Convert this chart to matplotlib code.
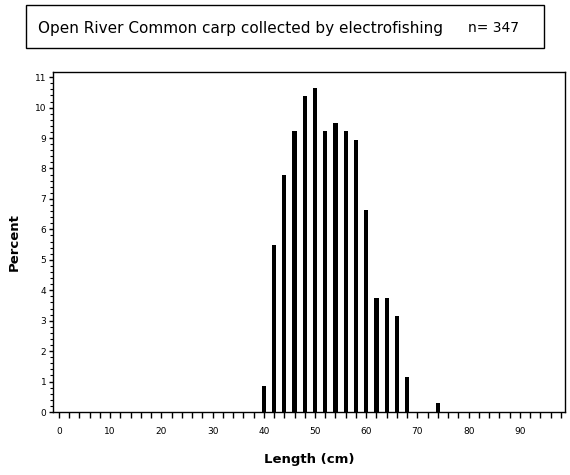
import matplotlib
matplotlib.use("Agg")
import matplotlib.pyplot as plt
from matplotlib.patches import Rectangle
from matplotlib.ticker import MultipleLocator, FixedLocator, FuncFormatter

lengths = [40, 42, 44, 46, 48, 50, 52, 54, 56, 58, 60, 62, 64, 66, 68, 74]
percent = [0.86, 5.48, 7.78, 9.22, 10.37, 10.66, 9.22, 9.51, 9.22, 8.93,
           6.63, 3.75, 3.75, 3.17, 1.15, 0.29]
x_labels = [0, 10, 20, 30, 40, 50, 60, 70, 80, 90]
y_labels = list(range(0, 12))
title_text = "Open River Common carp collected by electrofishing"
n_text = "n= 347"

plt.rcParams['font.family'] = ['DejaVu Sans']

fig = plt.figure(figsize=(5.7, 4.75), dpi=100)
W, H = 570, 475
ax = fig.add_axes([52.7 / W, 1 - 412 / H, (565 - 52.7) / W, (412 - 71.7) / H])

ax.bar(lengths, percent, width=0.84, color='black', linewidth=0)

ax.set_xlim(-1.2, 98.8)
ax.set_ylim(0, 11.18)

ax.xaxis.set_major_locator(MultipleLocator(2))
ax.xaxis.set_major_formatter(FuncFormatter(
    lambda v, p: str(int(round(v))) if int(round(v)) in x_labels else ""))
ax.yaxis.set_major_locator(FixedLocator(y_labels))
ax.yaxis.set_minor_locator(MultipleLocator(0.2))

ax.tick_params(axis='x', which='major', length=4, width=1, direction='out',
               labelsize=6.5, pad=7)
ax.tick_params(axis='y', which='major', length=3, width=1, direction='out',
               labelsize=6.5, pad=1.5)
ax.tick_params(axis='y', which='minor', length=2, width=0.8, direction='out')

for s in ['top', 'right', 'left', 'bottom']:
    ax.spines[s].set_linewidth(1.0)

ax.set_xlabel("Length (cm)", fontsize=9.5, fontweight='bold', labelpad=12)
ax.set_ylabel("Percent", fontsize=9.5, fontweight='bold', labelpad=10)

# Title box
fig.patches.append(Rectangle((26 / W, 1 - 48 / H), (544 - 26) / W, 43 / H,
                             transform=fig.transFigure, fill=False,
                             edgecolor='black', linewidth=1.0))
fig.text(38 / W, 1 - 28 / H, title_text, fontsize=11, ha='left', va='center')
fig.text(468 / W, 1 - 28 / H, n_text, fontsize=10, ha='left', va='center')

fig.savefig("out.png", dpi=100)
